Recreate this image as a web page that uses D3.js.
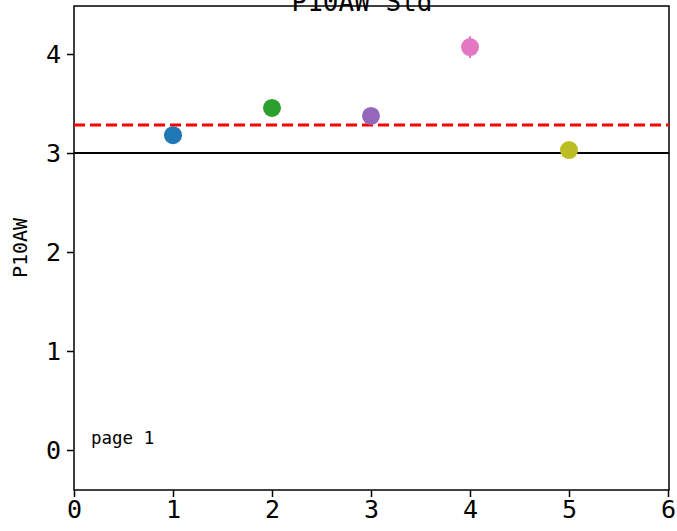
<!DOCTYPE html>
<html><head><meta charset="utf-8">
<script src="https://cdn.jsdelivr.net/npm/d3@7"></script>
<style>body{margin:0;background:#fff}svg{display:block}</style>
</head><body>
<svg id="c" width="677" height="531"></svg>
<script>
const xs = [1, 2, 3, 4, 5];
const values = [3.18, 3.455, 3.374, 4.07, 3.03];
const errors = [0.01, 0.01, 0.01, 0.11, 0.01];
const colors = ["#1f77b4", "#2ca02c", "#9467bd", "#e377c2", "#bcbd22"];
const meanLine = 3.283;
const refLine = 3;
const xTicks = [0, 1, 2, 3, 4, 5, 6];
const yTicks = [0, 1, 2, 3, 4];
const title = "P10AW Std";
const yLabel = "P10AW";
const note = "page 1";

const font = "'DejaVu Sans Mono', monospace";
const svg = d3.select("#c");
const L = 74, R = 669, T = 6, B = 490;
const x = d3.scaleLinear().domain([0, 6]).range([L, R - 1]);
const y = d3.scaleLinear().domain([-0.404, 4.485]).range([B, T]);

svg.append("text").attr("x", 362).attr("y", 11).attr("text-anchor", "middle")
  .attr("font-family", font).attr("font-size", 26).text(title);

const g = svg.append("g");
g.append("rect").attr("x", L).attr("y", T).attr("width", R - L).attr("height", B - T)
  .attr("fill", "none").attr("stroke", "#000").attr("stroke-width", 1.5);

g.append("line").attr("x1", L).attr("x2", R).attr("y1", y(refLine)).attr("y2", y(refLine))
  .attr("stroke", "#000").attr("stroke-width", 2);
g.append("line").attr("x1", L).attr("x2", R).attr("y1", y(meanLine)).attr("y2", y(meanLine))
  .attr("stroke", "#ff0000").attr("stroke-width", 3).attr("stroke-dasharray", "11,5");

const pts = xs.map((v, i) => ({x: v, y: values[i], e: errors[i], c: colors[i]}));
g.selectAll(".eb").data(pts).enter().append("line")
  .attr("x1", d => x(d.x)).attr("x2", d => x(d.x))
  .attr("y1", d => y(d.y - d.e)).attr("y2", d => y(d.y + d.e))
  .attr("stroke", d => d.c).attr("stroke-width", 2);
g.selectAll(".pt").data(pts).enter().append("circle")
  .attr("cx", d => x(d.x)).attr("cy", d => y(d.y)).attr("r", 9)
  .attr("fill", d => d.c);

const xa = svg.append("g").attr("transform", `translate(0,${B})`)
  .call(d3.axisBottom(x).tickValues(xTicks).tickFormat(d3.format("d")).tickSize(7).tickPadding(3));
const ya = svg.append("g").attr("transform", `translate(${L},0)`)
  .call(d3.axisLeft(y).tickValues(yTicks).tickFormat(d3.format("d")).tickSize(7).tickPadding(6));
[xa, ya].forEach(a => {
  a.select(".domain").remove();
  a.selectAll("line").attr("stroke", "#000").attr("stroke-width", 1.5);
  a.selectAll("text").attr("font-family", font).attr("font-size", 25).attr("fill", "#000");
});

svg.append("text").attr("transform", `translate(27,${(T + B) / 2}) rotate(-90)`)
  .attr("text-anchor", "middle").attr("font-family", font).attr("font-size", 20).text(yLabel);

svg.append("text").attr("x", 91).attr("y", 444).attr("font-family", font)
  .attr("font-size", 17.5).text(note);
</script>
</body></html>
